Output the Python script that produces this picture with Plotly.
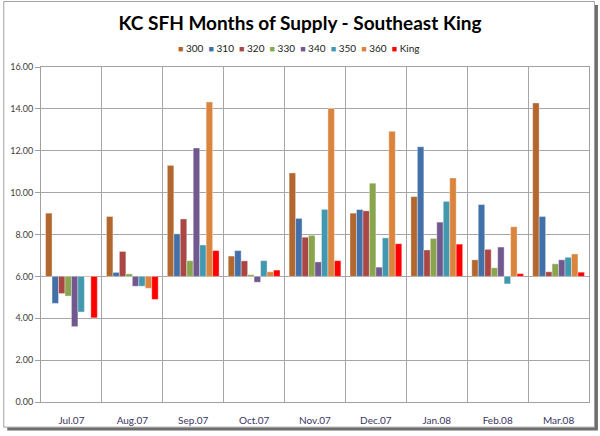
import plotly.graph_objects as go

months = ["Jul.07", "Aug.07", "Sep.07", "Oct.07", "Nov.07", "Dec.07", "Jan.08", "Feb.08", "Mar.08"]
series_names = ["300", "310", "320", "330", "340", "350", "360", "King"]
s300 = [9.02, 8.86, 11.30, 6.97, 10.94, 9.02, 9.81, 6.79, 14.28]
s310 = [4.71, 6.19, 8.03, 7.23, 8.77, 9.19, 12.19, 9.43, 8.86]
s320 = [5.18, 7.19, 8.74, 6.74, 7.87, 9.13, 7.26, 7.29, 6.22]
s330 = [5.06, 6.12, 6.75, 6.08, 7.96, 10.45, 7.81, 6.41, 6.60]
s340 = [3.60, 5.53, 12.13, 5.72, 6.69, 6.44, 8.59, 7.40, 6.79]
s350 = [4.30, 5.53, 7.50, 6.75, 9.20, 7.84, 9.58, 5.64, 6.91]
s360 = [5.97, 5.43, 14.33, 6.22, 14.02, 12.93, 10.70, 8.37, 7.07]
sKing = [4.02, 4.90, 7.23, 6.30, 6.75, 7.56, 7.54, 6.13, 6.20]
series_values = [s300, s310, s320, s330, s340, s350, s360, sKing]
colors = ["#B2672F", "#4270A8", "#AA4643", "#89A54E", "#71588F", "#4198AF", "#DB843D", "#FF0000"]
y_ticks = [0, 2, 4, 6, 8, 10, 12, 14, 16]
baseline = 6.0

W, H = 600, 436
ML, MR, MT, MB = 38, 10, 67, 29
PW, PH = W - ML - MR, H - MT - MB


def px_x(px):
    return (px - ML) / PW


def px_y(py):
    return (H - MB - py) / PH


fig = go.Figure()
for name, vals, col in zip(series_names, series_values, colors):
    fig.add_trace(go.Bar(
        x=months,
        y=[v - baseline for v in vals],
        base=baseline,
        name=name,
        marker=dict(color=col, line=dict(color="rgba(255,255,255,0.45)", width=0.8)),
        customdata=vals,
        hovertemplate="%{x}<br>" + name + ": %{customdata:.2f}<extra></extra>",
    ))

legend_text = "&nbsp;&nbsp;".join(
    f"<span style='color:{c}; font-size:9px'>■</span>&nbsp;{n}" for n, c in zip(series_names, colors)
)

fig.update_layout(
    width=W, height=H,
    margin=dict(l=ML, r=MR, t=MT, b=MB, pad=0),
    paper_bgcolor="white",
    plot_bgcolor="white",
    barmode="group",
    bargap=0.15,
    bargroupgap=0,
    showlegend=False,
    font=dict(family="Lato, Carlito, 'Liberation Sans', sans-serif", size=10, color="#404040"),
    title=dict(
        text="<b>KC SFH Months of Supply - Southeast King</b>",
        x=0.5, xanchor="center", xref="container",
        y=1 - 23 / H, yanchor="middle", yref="container",
        font=dict(size=19, color="#000000"),
    ),
    xaxis=dict(
        type="category",
        tickson="boundaries",
        showgrid=True, gridcolor="#A6A6A6", gridwidth=1,
        showline=True, linecolor="#A0A0A0", linewidth=1, mirror=True,
        ticks="", tickfont=dict(size=10, color="#3A3560"),
        ticklabelstandoff=9,
    ),
    yaxis=dict(
        range=[0, 16], tickvals=y_ticks, tickformat=".2f",
        showgrid=True, gridcolor="#A6A6A6", gridwidth=1,
        showline=True, linecolor="#A0A0A0", linewidth=1, mirror=True,
        ticks="outside", ticklen=5, tickcolor="#A0A0A0",
        tickfont=dict(size=9, color="#404040"),
        zeroline=False,
    ),
    shapes=[
        dict(type="rect", xref="paper", yref="paper", layer="below",
             x0=px_x(4), x1=px_x(599), y0=px_y(436), y1=px_y(4),
             fillcolor="#6E6E6E", line=dict(width=0)),
        dict(type="rect", xref="paper", yref="paper", layer="below",
             x0=px_x(0.5), x1=px_x(595.5), y0=px_y(432.5), y1=px_y(0.5),
             fillcolor="white", line=dict(color="#A0A0A0", width=1)),
    ],
    annotations=[
        dict(text=legend_text, xref="paper", yref="paper",
             x=px_x(298), y=px_y(48), xanchor="center", yanchor="middle",
             showarrow=False, font=dict(size=10, color="#202020")),
    ],
)

fig.write_html("out.html", config={"displayModeBar": False},
               post_script="document.body.style.margin='0';")
